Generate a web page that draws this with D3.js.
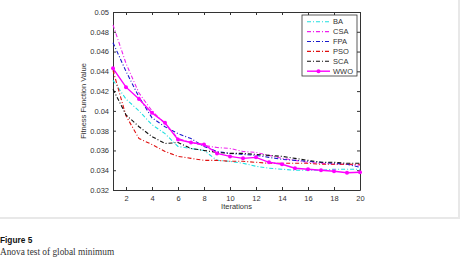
<!DOCTYPE html>
<html>
<head>
<meta charset="utf-8">
<script src="https://cdn.jsdelivr.net/npm/d3@7"></script>
<style>
  body { margin: 0; background: #fff; }
  svg { display: block; }
</style>
</head>
<body>
<div id="chart"></div>
<script>
const width = 462, height = 260;

// data
const iterations = d3.range(1, 21);
const ba  = [0.0431, 0.0412, 0.0400, 0.0386, 0.0377, 0.0364, 0.0362, 0.0360, 0.0350, 0.0349, 0.0347, 0.0344, 0.0342, 0.0341, 0.0340, 0.0340, 0.0340, 0.0341, 0.0341, 0.0341];
const csa = [0.0487, 0.0448, 0.0418, 0.0400, 0.0387, 0.0372, 0.0368, 0.0365, 0.0363, 0.0362, 0.0359, 0.0358, 0.0355, 0.0352, 0.0350, 0.0348, 0.0347, 0.0346, 0.0346, 0.0345];
const fpa = [0.0469, 0.0440, 0.0414, 0.0393, 0.0384, 0.0377, 0.0372, 0.0364, 0.0359, 0.0357, 0.0356, 0.0355, 0.0353, 0.0351, 0.0350, 0.0349, 0.0348, 0.0347, 0.0346, 0.0343];
const pso = [0.0441, 0.0395, 0.0372, 0.0366, 0.0359, 0.0354, 0.0352, 0.0350, 0.0350, 0.0349, 0.0349, 0.0348, 0.0347, 0.0347, 0.0347, 0.0347, 0.0346, 0.0346, 0.0346, 0.0346];
const sca = [0.0422, 0.0396, 0.0384, 0.0374, 0.0367, 0.0368, 0.0362, 0.0360, 0.0358, 0.0357, 0.0357, 0.0356, 0.0355, 0.0354, 0.0352, 0.0350, 0.0348, 0.0348, 0.0347, 0.0347];
const wwo = [0.0443, 0.0424, 0.0412, 0.0398, 0.0388, 0.0371, 0.0368, 0.0366, 0.0357, 0.0354, 0.0352, 0.0353, 0.0348, 0.0346, 0.0342, 0.0341, 0.0340, 0.0339, 0.03375, 0.0338];
const seriesNames = ["BA", "CSA", "FPA", "PSO", "SCA", "WWO"];
const seriesColors = ["#22e0e0", "#ee22ee", "#1a1acc", "#e01010", "#111111", "#ff00ff"];
const yTicks = d3.range(0.032, 0.0501, 0.002);
const xTicks = d3.range(2, 21, 2);

const series = [ba, csa, fpa, pso, sca, wwo];

const margin = { left: 113, right: 102, top: 12, bottom: 70 };
const x = d3.scaleLinear().domain([1, 20]).range([margin.left, width - margin.right]);
const y = d3.scaleLinear().domain([0.032, 0.05]).range([height - margin.bottom, margin.top]);

const svg = d3.select("#chart").append("svg")
    .attr("width", width)
    .attr("height", height)
    .style("font-family", "'Liberation Sans', Arial, sans-serif");

// card frame
svg.append("rect")
    .attr("x", -10).attr("y", -10)
    .attr("width", 469).attr("height", 228)
    .attr("fill", "none")
    .attr("stroke", "#e8e8e8")
    .attr("stroke-width", 2);

const fmt = d => String(+d.toFixed(3));

// axes, MATLAB style with inward ticks
const axB = svg.append("g").attr("transform", `translate(0,${y.range()[0]})`)
    .call(d3.axisBottom(x).tickValues(xTicks).tickSizeInner(-3).tickSizeOuter(0).tickPadding(6));
const axT = svg.append("g").attr("transform", `translate(0,${y.range()[1]})`)
    .call(d3.axisTop(x).tickValues(xTicks).tickSizeInner(-3).tickSizeOuter(0).tickFormat(""));
const axL = svg.append("g").attr("transform", `translate(${x.range()[0]},0)`)
    .call(d3.axisLeft(y).tickValues(yTicks).tickFormat(fmt).tickSizeInner(-3).tickSizeOuter(0).tickPadding(4));
const axR = svg.append("g").attr("transform", `translate(${x.range()[1]},0)`)
    .call(d3.axisRight(y).tickValues(yTicks).tickSizeInner(-3).tickSizeOuter(0).tickFormat(""));

[axB, axT, axL, axR].forEach(g => {
    g.selectAll("path").attr("stroke", "#333").attr("stroke-width", 1);
    g.selectAll("line").attr("stroke", "#333");
    g.selectAll("text").attr("fill", "#333").style("font-size", "7.5px").style("font-family", "'Liberation Sans', Arial, sans-serif");
});

// axis titles
svg.append("text")
    .attr("x", (x.range()[0] + x.range()[1]) / 2)
    .attr("y", 209)
    .attr("text-anchor", "middle")
    .style("font-size", "7.5px")
    .attr("fill", "#333")
    .text("Iterations");

svg.append("text")
    .attr("transform", `translate(86,${(y.range()[0] + y.range()[1]) / 2}) rotate(-90)`)
    .attr("text-anchor", "middle")
    .style("font-size", "7.5px")
    .attr("fill", "#333")
    .text("Fitness Function Value");

// lines
const line = d3.line().x((d, i) => x(iterations[i])).y(d => y(d));

series.forEach((s, k) => {
    const isW = seriesNames[k] === "WWO";
    svg.append("path")
        .datum(s)
        .attr("fill", "none")
        .attr("stroke", seriesColors[k])
        .attr("stroke-width", isW ? 1.4 : 1.1)
        .attr("stroke-dasharray", isW ? null : "4,2,1,2")
        .attr("d", line);
});

// WWO markers
svg.append("g").selectAll("circle")
    .data(wwo)
    .join("circle")
    .attr("cx", (d, i) => x(iterations[i]))
    .attr("cy", d => y(d))
    .attr("r", 2)
    .attr("fill", "#ff00ff");

// legend
const lg = svg.append("g").attr("transform", "translate(302,15)");
lg.append("rect")
    .attr("width", 55).attr("height", 61)
    .attr("fill", "#fff")
    .attr("stroke", "#333")
    .attr("stroke-width", 0.8);

seriesNames.forEach((name, k) => {
    const ly = 6.7 + k * 9.9;
    const isW = name === "WWO";
    lg.append("line")
        .attr("x1", 5).attr("x2", 28)
        .attr("y1", ly).attr("y2", ly)
        .attr("stroke", seriesColors[k])
        .attr("stroke-width", isW ? 1.4 : 1.1)
        .attr("stroke-dasharray", isW ? null : "4,2,1,2");
    if (isW) {
        lg.append("circle").attr("cx", 16.5).attr("cy", ly).attr("r", 2).attr("fill", "#ff00ff");
    }
    lg.append("text")
        .attr("x", 31).attr("y", ly)
        .attr("dy", "0.35em")
        .style("font-size", "7.5px")
        .attr("fill", "#333")
        .text(name);
});

// caption
svg.append("text")
    .attr("x", 0).attr("y", 242.5)
    .style("font-size", "8.3px")
    .style("font-weight", "bold")
    .attr("fill", "#111")
    .text("Figure 5");

svg.append("text")
    .attr("x", 0).attr("y", 254.5)
    .style("font-family", "'Liberation Serif', 'DejaVu Serif', serif")
    .style("font-size", "9.3px")
    .attr("fill", "#333")
    .text("Anova test of global minimum");
</script>
</body>
</html>
